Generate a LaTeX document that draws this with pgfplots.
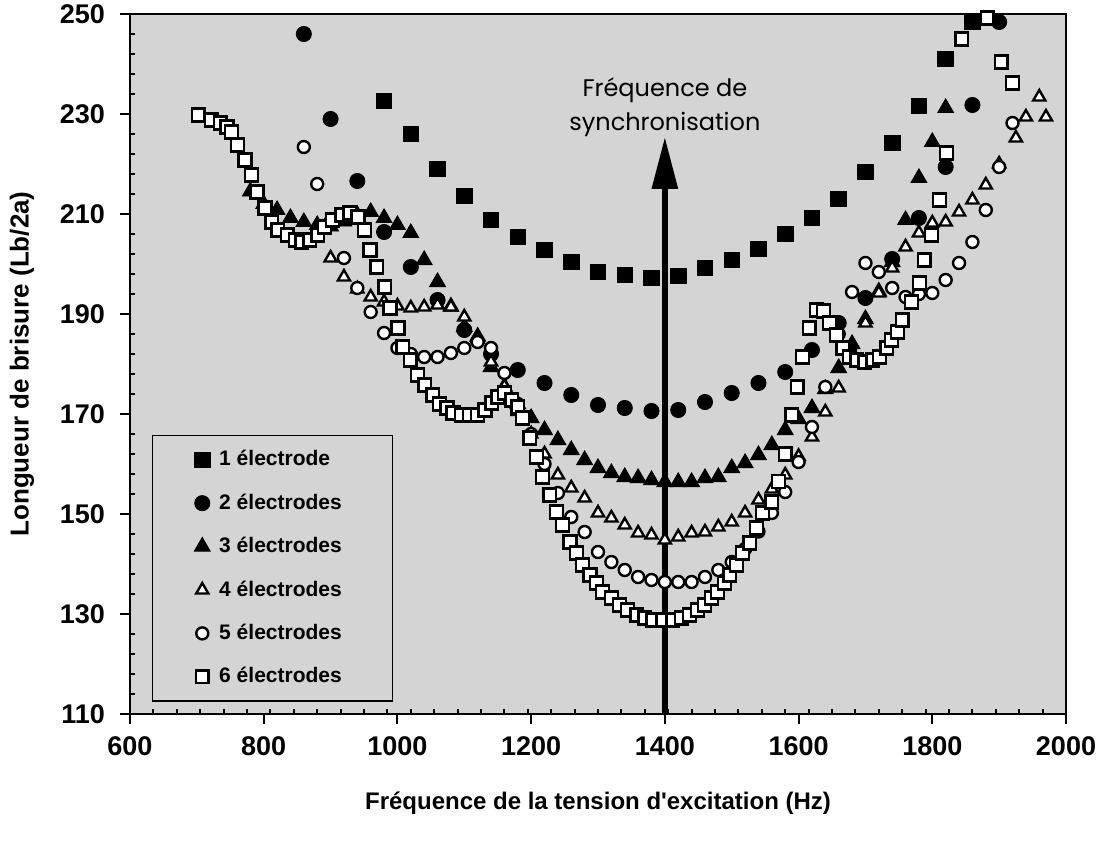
\documentclass[border=0pt]{standalone}
\usepackage{pgfplots}
\pgfplotsset{compat=1.18}
\usepackage{fontspec}
\setmainfont{Liberation Sans}
\newfontfamily\plainls{Liberation Sans}
\newfontfamily\geofont{Poppins}
\usetikzlibrary{arrows.meta}
\definecolor{stip}{gray}{0.83}

\pgfplotsset{
  mklegend/.style={legend image code/.code={\draw[##1] plot coordinates {(0cm,0cm)};}},
  sA/.style={only marks, mark=square*, mark size=3.9pt, black, mark options={solid, fill=black, line width=0.4pt}, mklegend},
  sB/.style={only marks, mark=*, mark size=3.8pt, black, mark options={solid, fill=black, line width=0.4pt}, mklegend},
  sC/.style={only marks, mark=triangle*, mark size=4.6pt, black, mark options={solid, fill=black, line width=0.4pt}, mklegend},
  sD/.style={only marks, mark=triangle*, mark size=3.5pt, black, mark options={solid, fill=white, draw=black, line width=1.2pt}, mklegend},
  sE/.style={only marks, mark=*, mark size=3.0pt, black, mark options={solid, fill=white, draw=black, line width=1.2pt}, mklegend},
  sF/.style={only marks, mark=square*, mark size=3.2pt, black, mark options={solid, fill=white, draw=black, line width=1.2pt}, mklegend},
}

\pgfplotstableread{
x y
980 232.6
1020 226
1060 219
1100 213.6
1140 208.8
1180 205.4
1220 202.8
1260 200.4
1300 198.4
1340 197.8
1380 197.2
1420 197.6
1460 199.2
1500 200.8
1540 203
1580 206
1620 209.2
1660 213
1700 218.4
1740 224.2
1780 231.6
1820 241
1860 248.4
}\one

\pgfplotstableread{
x y
860 246
900 229
940 216.6
980 206.4
1020 199.4
1060 192.8
1100 186.8
1140 182
1180 178.8
1220 176.2
1260 173.8
1300 171.8
1340 171.2
1380 170.6
1420 170.8
1460 172.4
1500 174.2
1540 176.2
1580 178.4
1620 182.8
1660 188.2
1700 193.2
1740 201
1780 209.2
1820 219.4
1860 231.8
1900 248.4
}\two

\pgfplotstableread{
x y
780 214.5
800 212
820 210.8
840 209.2
860 208.4
880 207.8
900 207.5
920 208.5
940 209.8
960 210.4
980 209.2
1000 207.8
1020 206.2
1040 200.8
1060 196.4
1080 191.5
1100 187.4
1120 185.5
1140 179.4
1160 175.5
1180 172
1200 169.2
1220 166.8
1240 164.8
1260 162.8
1280 160.8
1300 159.2
1320 158.2
1340 157.4
1360 157.2
1380 156.8
1400 156.4
1420 156.4
1440 156.4
1460 157.2
1480 157.4
1500 159.2
1520 160.2
1540 161.8
1560 163.8
1580 166.8
1600 169
1620 171.2
1640 175
1660 179.2
1680 184
1700 189
1720 194.5
1740 200.4
1760 208.8
1780 217.2
1800 224.4
1820 231.2
}\three

\pgfplotstableread{
x y
900 201.2
920 197.4
940 195
960 193.4
980 192.4
1000 191.6
1020 191.2
1040 191.4
1060 191.8
1080 191.4
1100 189.4
1120 185
1140 180.4
1160 175.5
1180 170.5
1200 166
1220 162
1240 157.8
1260 155.2
1280 153.2
1300 150.2
1320 149.2
1340 147.8
1360 146.2
1380 145.8
1400 144.8
1420 145.4
1440 146.2
1460 146.4
1480 147.4
1500 148.4
1520 150.2
1540 152.8
1560 155
1580 157.8
1600 161.5
1620 165.4
1640 170.4
1660 175.2
1680 181.5
1700 188.2
1720 194.2
1740 199.2
1760 203.4
1780 206.2
1800 208.2
1820 208.4
1840 210.4
1860 212.8
1880 215.8
1900 220
1925 225.2
1940 229.4
1960 233.4
1970 229.4
}\four

\pgfplotstableread{
x y
860 223.4
880 216
900 208.5
920 201.2
940 195.2
960 190.4
980 186.2
1000 183.2
1020 182
1040 181.4
1060 181.4
1080 182.2
1100 183.2
1120 184.4
1140 183.2
1160 178.2
1180 172
1200 166
1220 160
1240 154.2
1260 149.4
1280 146.4
1300 142.4
1320 140.4
1340 138.8
1360 137.4
1380 136.8
1400 136.4
1420 136.4
1440 136.4
1460 137.4
1480 138.8
1500 140.4
1520 143
1540 146.5
1560 150.2
1580 154.4
1600 160.4
1620 167.4
1640 175.4
1660 186
1680 194.4
1700 200.2
1720 198.4
1740 195.2
1760 193.4
1780 194
1800 194.2
1820 196.8
1840 200.2
1860 204.4
1880 210.8
1900 219.4
1920 228.2
}\five

\pgfplotstableread{
x y
702 229.8
722 228.8
735 228.2
745 227.4
752 226.4
761 223.8
772 220.8
782 217.8
790 214.4
802 211.2
812 208.4
821 206.8
835 205.8
847 204.8
857 204.4
869 204.8
881 205.8
891 207.4
903 208.8
917 209.8
929 210.2
941 209.4
951 206.8
959 202.8
969 199.4
981 195.4
989 191.2
1001 187.2
1008 183.4
1019 180.8
1030 177.8
1041 175.8
1053 173.8
1063 172
1074 171.2
1083 170.2
1096 169.8
1108 169.8
1120 169.8
1131 170.8
1141 172.2
1150 173.4
1160 174.2
1171 172.8
1180 171.4
1187 169.2
1198 165.2
1208 161.4
1217 157.4
1228 153.8
1238 150.4
1247 147.8
1258 144.4
1268 142.2
1277 139.8
1288 137.8
1298 136.2
1307 134.4
1320 133.2
1332 131.8
1344 130.8
1358 129.8
1370 129.2
1382 128.8
1397 128.8
1412 128.8
1425 129.2
1437 129.8
1449 130.8
1459 131.8
1470 133.2
1479 134.4
1489 136.2
1497 137.8
1507 139.8
1516 142.2
1527 144.2
1537 147.2
1546 150.2
1560 152.4
1570 156.5
1580 162
1590 169.8
1598 175.4
1606 181.4
1616 187.2
1627 190.8
1637 190.6
1646 188.2
1657 185.8
1666 183.2
1676 181.4
1687 180.8
1699 180.4
1711 180.8
1721 181.4
1732 183.2
1739 184.8
1748 186.4
1755 188.8
1769 192.4
1781 196.2
1788 200.8
1799 205.8
1811 212.8
1821 222.2
1844 245
1882 249.2
1903 240.4
1920 236.2
}\six

\begin{document}
\begin{tikzpicture}
\begin{axis}[
  width=468pt, height=350pt, scale only axis,
  xmin=600, xmax=2000, ymin=110, ymax=250,
  xtick={600,800,...,2000}, ytick={110,130,...,250},
  minor xtick={635,670,...,1965},
  minor y tick num=4,
  tick align=outside, major tick length=5pt, minor tick length=-2.5pt,
  xtick pos=left, ytick pos=left,
  axis line style={line width=1.2pt},
  tick style={line width=1pt, black},
  axis background/.style={fill=stip},
  ticklabel style={font=\fontsize{13.5}{15}\selectfont\bfseries},
  /pgf/number format/assume math mode=true,
  /pgf/number format/1000 sep={},
  yticklabel style={xshift=-4pt},
  xticklabel style={yshift=-3pt},
  xlabel={Fréquence de la tension d{\plainls '}excitation (Hz)},
  ylabel={Longueur de brisure (Lb/2a)},
  xlabel style={font=\fontsize{12}{14}\selectfont\bfseries, at={(axis description cs:0.5,-0.127)}, anchor=center},
  ylabel style={font=\fontsize{13}{15}\selectfont\bfseries, at={(axis description cs:-0.1154,0.5)}, anchor=center},
  legend style={at={(rel axis cs:0.0232,0.3986)}, anchor=north west,
    fill=stip, draw=black, line width=0.6pt,
    font=\fontsize{10.5}{12.6}\selectfont\bfseries,
    inner xsep=21pt, inner ysep=5.5pt, row sep=8.5pt, cells={anchor=west},
    nodes={inner xsep=4.5pt}},
]
\addplot[sA] table {\one};
\addlegendentry{1 électrode}
\addplot[sB] table {\two};
\addlegendentry{2 électrodes}
\addplot[sC] table {\three};
\addlegendentry{3 électrodes}
\addplot[sD] table {\four};
\addlegendentry{4 électrodes}
\addplot[sE] table {\five};
\addlegendentry{5 électrodes}
\addplot[sF] table {\six};
\addlegendentry{6 électrodes}
\draw[line width=3pt, -{Triangle[length=26pt, width=12.5pt]}] (axis cs:1400,110) -- (axis cs:1400,225.4);
\node[anchor=base, font=\geofont\fontsize{12}{14}\selectfont] at (axis cs:1400,233.4) {Fréquence de};
\node[anchor=base, font=\geofont\fontsize{12}{14}\selectfont] at (axis cs:1400,226.6) {synchronisation};
\coordinate (BBsw) at (rel axis cs:-0.13889,-0.18714);
\coordinate (BBne) at (rel axis cs:1.03632,1.02);
\end{axis}
\pgfresetboundingbox
\useasboundingbox (BBsw) rectangle (BBne);
\end{tikzpicture}
\end{document}
